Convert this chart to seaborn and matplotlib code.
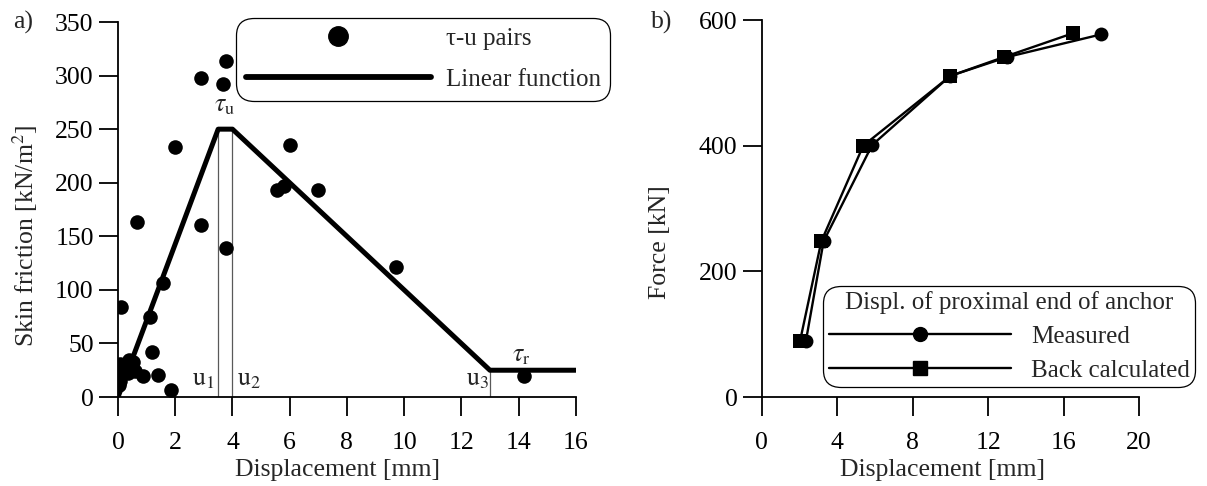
import numpy as np
import pandas as pd
import matplotlib
matplotlib.use("Agg")
import matplotlib.pyplot as plt
import seaborn as sns
from matplotlib.lines import Line2D

# ---------------- data ----------------
# panel a: tau-u pairs
tu_disp = [0.12, 1.12, 1.56, 1.18, 1.41, 1.85, 0.86, 0.53, 0.40, 0.06, 0.12, 0.02,
           0.35, 0.59, 0.06, 0.65, 2.0, 2.9, 2.9, 3.67, 3.77, 3.77, 5.55, 5.8,
           6.0, 6.98, 9.73, 14.18]
tu_fric = [84, 75, 106, 42, 21, 7, 20, 33, 35, 31, 24, 11,
           22, 24, 15, 163, 233, 298, 161, 292, 314, 139, 193, 197,
           235, 193, 121, 20]
# panel a: linear function
lin_disp = [0, 3.5, 4.0, 13.0, 16.0]
lin_fric = [0, 250, 250, 25, 25]

# panel b: force-displacement
meas_disp = [2.34, 3.28, 5.85, 9.99, 13.0, 17.97]
meas_force = [89, 248, 401, 511, 541, 577]
back_disp = [2.03, 3.16, 5.38, 10.0, 12.83, 16.5]
back_force = [89, 248, 400, 511, 541, 579]

a_xticks = list(range(0, 17, 2))
a_yticks = list(range(0, 351, 50))
b_xticks = list(range(0, 21, 4))
b_yticks = list(range(0, 601, 200))

# ---------------- style ----------------
sns.set_theme(style="ticks")
plt.rcParams["font.family"] = ["Liberation Serif", "DejaVu Serif"]
plt.rcParams["mathtext.fontset"] = "stix"
FS = 18.5
LFS = 18
plt.rcParams["font.size"] = FS

fig = plt.figure(figsize=(12.07, 4.86), dpi=100)
axA = fig.add_axes([0.0978, 0.1831, 0.4770 - 0.0978, 0.9547 - 0.1831])
axB = fig.add_axes([0.6311, 0.1831, 0.9437 - 0.6311, 0.9588 - 0.1831])

for ax in (axA, axB):
    for s in ("top", "right"):
        ax.spines[s].set_visible(False)
    for s in ("left", "bottom"):
        ax.spines[s].set_linewidth(1.3)
        ax.spines[s].set_color("black")
    ax.tick_params(axis="both", direction="out", length=14, width=1.3,
                   colors="black", labelsize=FS)
    ax.tick_params(axis="x", pad=11)
    ax.tick_params(axis="y", pad=3.5)

# ---------------- panel a ----------------
dfA = pd.DataFrame({"disp": tu_disp, "fric": tu_fric})
dfL = pd.DataFrame({"disp": lin_disp, "fric": lin_fric})
sns.scatterplot(data=dfA, x="disp", y="fric", ax=axA, color="black", s=110,
                edgecolor="black", linewidth=0, zorder=3, legend=False)
sns.lineplot(data=dfL, x="disp", y="fric", ax=axA, color="black", lw=3.6,
             sort=False, zorder=4, legend=False, solid_capstyle="round")

# thin guide lines
axA.vlines([lin_disp[1], lin_disp[2]], 0, lin_fric[1], colors="0.35", lw=0.9, zorder=2)
axA.vlines([lin_disp[3]], 0, lin_fric[3], colors="0.35", lw=0.9, zorder=2)

axA.text(3.72, 272, r"$\tau_\mathrm{u}$", ha="center", va="center", fontsize=FS)
axA.text(14.08, 38, r"$\tau_\mathrm{r}$", ha="center", va="center", fontsize=FS)
axA.text(2.98, 16, r"$\mathrm{u}_1$", ha="center", va="center", fontsize=FS)
axA.text(4.57, 16, r"$\mathrm{u}_2$", ha="center", va="center", fontsize=FS)
axA.text(12.55, 16, r"$\mathrm{u}_3$", ha="center", va="center", fontsize=FS)

axA.set_xlim(0, 16)
axA.set_ylim(0, 350)
axA.set_xticks(a_xticks)
axA.set_yticks(a_yticks)
axA.set_xlabel("Displacement [mm]", fontsize=FS)
axA.set_ylabel(r"Skin friction [kN/m$^2$]", fontsize=FS)
axA.xaxis.set_label_coords(0.48, -0.195)
axA.xaxis.label.set_va("center")
axA.yaxis.set_label_coords(-0.202, 0.43)
axA.yaxis.label.set_va("center")

hA = [Line2D([], [], ls="none", marker="o", color="black", markersize=14),
      Line2D([], [], ls="-", color="black", lw=4.2, solid_capstyle="round")]
legA = fig.legend(hA, ["\u03c4-u pairs", "Linear function"], loc="upper left",
                  bbox_to_anchor=(236 / 1207, 1 - 18 / 486), borderaxespad=0,
                  fancybox=True, framealpha=1, edgecolor="black",
                  handlelength=7.4, handletextpad=0.6, labelspacing=0.75,
                  borderpad=0.38, fontsize=LFS)
legA.get_frame().set_linewidth(0.9)
legA.get_frame().set_boxstyle("round", pad=0, rounding_size=0.7)

# ---------------- panel b ----------------
dfB = pd.DataFrame({
    "disp": meas_disp + back_disp,
    "force": meas_force + back_force,
    "series": ["Measured"] * len(meas_disp) + ["Back calculated"] * len(back_disp),
})
sns.lineplot(data=dfB, x="disp", y="force", hue="series", style="series",
             markers={"Measured": "o", "Back calculated": "s"},
             dashes=False, palette={"Measured": "black", "Back calculated": "black"},
             sort=False, ax=axB, lw=1.7, markersize=10, markeredgewidth=0,
             legend=False)

axB.set_xlim(0, 20)
axB.set_ylim(0, 600)
axB.set_xticks(b_xticks)
axB.set_yticks(b_yticks)
axB.set_xlabel("Displacement [mm]", fontsize=FS)
axB.set_ylabel("Force [kN]", fontsize=FS)
axB.xaxis.set_label_coords(0.478, -0.194)
axB.xaxis.label.set_va("center")
axB.yaxis.set_label_coords(-0.27, 0.41)
axB.yaxis.label.set_va("center")

hB = [Line2D([], [], ls="-", lw=1.7, marker="o", color="black", markersize=10),
      Line2D([], [], ls="-", lw=1.7, marker="s", color="black", markersize=10)]
legB = fig.legend(hB, ["Measured", "Back calculated"],
                  title="Displ. of proximal end of anchor",
                  loc="lower left", bbox_to_anchor=(823 / 1207, 1 - 387 / 486),
                  borderaxespad=0, fancybox=True, framealpha=1, edgecolor="black",
                  handlelength=7.3, handletextpad=0.8, labelspacing=0.45,
                  borderpad=0.22, fontsize=LFS, title_fontsize=LFS)
legB.get_frame().set_linewidth(0.9)
legB.get_frame().set_boxstyle("round", pad=0, rounding_size=0.7)

fig.text(23 / 1207, 1 - 22 / 486, "a)", ha="center", va="center", fontsize=FS)
fig.text(662 / 1207, 1 - 22 / 486, "b)", ha="center", va="center", fontsize=FS)

fig.savefig("out.png", dpi=100)
